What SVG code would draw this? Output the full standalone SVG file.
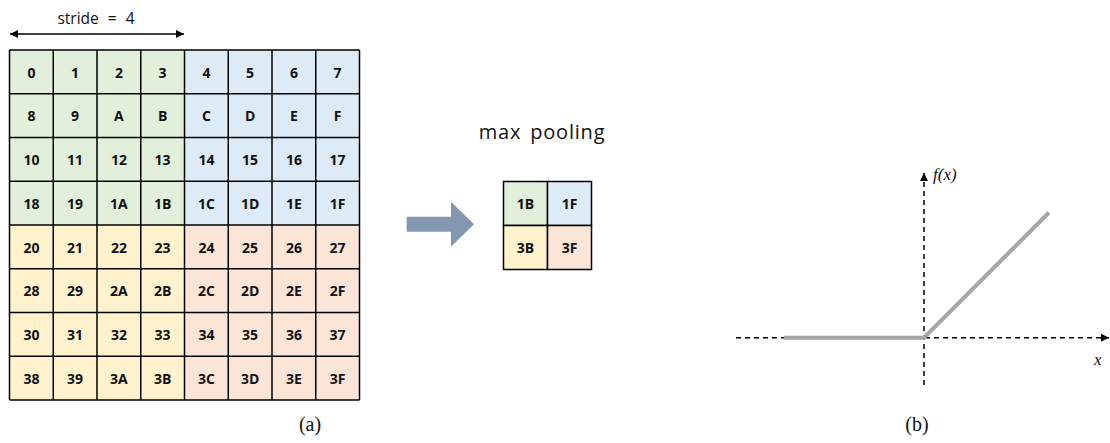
<svg xmlns="http://www.w3.org/2000/svg" width="1110" height="443" viewBox="0 0 1110 443">
<style>
.c{stroke:#000;stroke-width:1.5}
.g{fill:#E2EFDA}.b{fill:#DDEBF7}.y{fill:#FFF2CC}.p{fill:#FBE5D6}
.t{font-family:"Open Sans","Liberation Sans",sans-serif;font-weight:bold;font-size:14px;text-anchor:middle;fill:#111}
.lbl{font-family:"Open Sans","Liberation Sans",sans-serif;font-size:15.5px;fill:#111}
.ser{font-family:"Liberation Serif","DejaVu Serif",serif;fill:#111}
.ax{stroke:#000;stroke-width:1.5;stroke-dasharray:5,4;fill:none}
</style>
<defs>
<marker id="ah" viewBox="0 0 10 10" refX="10" refY="5" markerWidth="10" markerHeight="8" markerUnits="userSpaceOnUse" orient="auto-start-reverse"><path d="M0,0 L10,5 L0,10 z" fill="#000"/></marker>
</defs>
<g id="grid">
<rect class="g" x="9.5" y="50" width="175" height="175"/>
<rect class="b" x="184.5" y="50" width="175" height="175"/>
<rect class="y" x="9.5" y="225" width="175" height="175"/>
<rect class="p" x="184.5" y="225" width="175" height="175"/>
<g class="c">
<line x1="9.5" y1="50" x2="359.5" y2="50"/><line x1="9.5" y1="93.75" x2="359.5" y2="93.75"/><line x1="9.5" y1="137.5" x2="359.5" y2="137.5"/><line x1="9.5" y1="181.25" x2="359.5" y2="181.25"/><line x1="9.5" y1="225" x2="359.5" y2="225"/><line x1="9.5" y1="268.75" x2="359.5" y2="268.75"/><line x1="9.5" y1="312.5" x2="359.5" y2="312.5"/><line x1="9.5" y1="356.25" x2="359.5" y2="356.25"/><line x1="9.5" y1="400" x2="359.5" y2="400"/>
<line x1="9.5" y1="50" x2="9.5" y2="400"/><line x1="53.25" y1="50" x2="53.25" y2="400"/><line x1="97" y1="50" x2="97" y2="400"/><line x1="140.75" y1="50" x2="140.75" y2="400"/><line x1="184.5" y1="50" x2="184.5" y2="400"/><line x1="228.25" y1="50" x2="228.25" y2="400"/><line x1="272" y1="50" x2="272" y2="400"/><line x1="315.75" y1="50" x2="315.75" y2="400"/><line x1="359.5" y1="50" x2="359.5" y2="400"/>
</g>
<g class="t">
<text x="31.4" y="77.5">0</text><text x="75.1" y="77.5">1</text><text x="118.9" y="77.5">2</text><text x="162.6" y="77.5">3</text><text x="206.4" y="77.5">4</text><text x="250.1" y="77.5">5</text><text x="293.9" y="77.5">6</text><text x="337.6" y="77.5">7</text>
<text x="31.4" y="121.25">8</text><text x="75.1" y="121.25">9</text><text x="118.9" y="121.25">A</text><text x="162.6" y="121.25">B</text><text x="206.4" y="121.25">C</text><text x="250.1" y="121.25">D</text><text x="293.9" y="121.25">E</text><text x="337.6" y="121.25">F</text>
<text x="31.4" y="165">10</text><text x="75.1" y="165">11</text><text x="118.9" y="165">12</text><text x="162.6" y="165">13</text><text x="206.4" y="165">14</text><text x="250.1" y="165">15</text><text x="293.9" y="165">16</text><text x="337.6" y="165">17</text>
<text x="31.4" y="208.75">18</text><text x="75.1" y="208.75">19</text><text x="118.9" y="208.75">1A</text><text x="162.6" y="208.75">1B</text><text x="206.4" y="208.75">1C</text><text x="250.1" y="208.75">1D</text><text x="293.9" y="208.75">1E</text><text x="337.6" y="208.75">1F</text>
<text x="31.4" y="252.5">20</text><text x="75.1" y="252.5">21</text><text x="118.9" y="252.5">22</text><text x="162.6" y="252.5">23</text><text x="206.4" y="252.5">24</text><text x="250.1" y="252.5">25</text><text x="293.9" y="252.5">26</text><text x="337.6" y="252.5">27</text>
<text x="31.4" y="296.25">28</text><text x="75.1" y="296.25">29</text><text x="118.9" y="296.25">2A</text><text x="162.6" y="296.25">2B</text><text x="206.4" y="296.25">2C</text><text x="250.1" y="296.25">2D</text><text x="293.9" y="296.25">2E</text><text x="337.6" y="296.25">2F</text>
<text x="31.4" y="340">30</text><text x="75.1" y="340">31</text><text x="118.9" y="340">32</text><text x="162.6" y="340">33</text><text x="206.4" y="340">34</text><text x="250.1" y="340">35</text><text x="293.9" y="340">36</text><text x="337.6" y="340">37</text>
<text x="31.4" y="383.75">38</text><text x="75.1" y="383.75">39</text><text x="118.9" y="383.75">3A</text><text x="162.6" y="383.75">3B</text><text x="206.4" y="383.75">3C</text><text x="250.1" y="383.75">3D</text><text x="293.9" y="383.75">3E</text><text x="337.6" y="383.75">3F</text>
</g>
</g>
<g id="stride">
<text class="lbl" x="96" y="23.5" text-anchor="middle" style="word-spacing:5px">stride = 4</text>
</g>
<g id="pooled">
<text class="lbl" x="542" y="138.5" text-anchor="middle" style="font-size:20px;letter-spacing:0.8px;word-spacing:3px">max pooling</text>
<rect class="g c" x="503.5" y="181.5" width="44" height="44"/>
<rect class="b c" x="547.5" y="181.5" width="44" height="44"/>
<rect class="y c" x="503.5" y="225.5" width="44" height="44"/>
<rect class="p c" x="547.5" y="225.5" width="44" height="44"/>
<g class="t"><text x="525.5" y="209">1B</text><text x="569.5" y="209">1F</text><text x="525.5" y="253">3B</text><text x="569.5" y="253">3F</text></g>
</g>
<g id="connectors">
<line x1="10" y1="34" x2="184" y2="34" stroke="#000" stroke-width="1.5" marker-start="url(#ah)" marker-end="url(#ah)"/>
<path d="M406.7,216.7 H451 V201.7 L474,224.2 L451,246.7 V231.7 H406.7 z" fill="#8497B0"/>
<line class="ax" x1="736" y1="337.7" x2="1109" y2="337.7" marker-end="url(#ah)"/>
<line class="ax" x1="924" y1="385" x2="924" y2="173" marker-end="url(#ah)"/>
</g>
<g id="plot">
<polyline points="784,337.7 924,337.7 1049,212.5" fill="none" stroke="#A6A6A6" stroke-width="4"/>
<text class="ser" x="933" y="180" style="font-size:17px;font-style:italic">f(x)</text>
<text class="ser" x="1094" y="365" style="font-size:17px;font-style:italic">x</text>
</g>
<g id="captions">
<text class="ser" x="310" y="431" text-anchor="middle" style="font-size:20px">(a)</text>
<text class="ser" x="917" y="431" text-anchor="middle" style="font-size:20px">(b)</text>
</g>
</svg>
